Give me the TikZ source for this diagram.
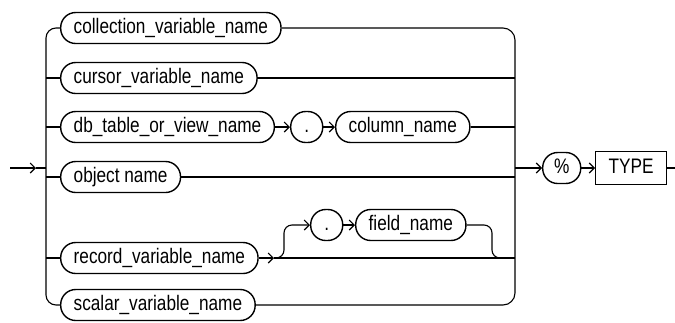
\documentclass[tikz,border=0pt]{standalone}
\usepackage{fontspec}
\setmainfont{Liberation Sans}[FakeStretch=0.82]
\usetikzlibrary{arrows.meta}
\begin{document}
\begin{tikzpicture}[x=1pt,y=-1pt,
  line width=1.1pt,
  font=\fontsize{21}{25}\selectfont,
  term/.style={draw, line width=1.4pt, rounded corners=15pt, minimum height=31pt, inner xsep=13pt, inner ysep=0pt, text height=15pt, text depth=4pt, anchor=west},
  dotn/.style={term, minimum width=32pt, inner xsep=0pt},
  kw/.style={draw, line width=1.4pt, minimum height=33pt, inner xsep=13pt, inner ysep=0pt, text height=15pt, text depth=4pt, anchor=west},
  arr/.style={-{Straight Barb[length=5pt,width=10pt,line width=1.1pt]}}]
\useasboundingbox (0,0) rectangle (675,322);
% nodes
\node[term] (c1) at (60,28) {collection\_variable\_name};
\node[term] (c2) at (60,78) {cursor\_variable\_name};
\node[term] (c3) at (60,127) {db\_table\_or\_view\_name};
\node[dotn] (dot1) at (290,127) {.};
\node[term] (col) at (335,127) {column\_name};
\node[term] (c4) at (60,177) {object name};
\node[term] (c5) at (60,258) {record\_variable\_name};
\node[dotn] (dot2) at (310,225) {.};
\node[term] (fld) at (355,225) {field\_name};
\node[term] (c6) at (60,305) {scalar\_variable\_name};
\node[term, minimum width=38pt, inner xsep=0pt] (pct) at (542,168) {\%};
\node[kw] (typ) at (595,168) {TYPE};
% coordinates
\coordinate (e0) at (10,168);
\coordinate (e1) at (36,168);
\coordinate (jl) at (46,168);
\coordinate (jr) at (515,168);
\coordinate (rt) at (274,258);
\coordinate (rb) at (284,225);
\coordinate (fb) at (492,258);
\coordinate (xe) at (675,168);
% entry
\draw[arr] (e0) -- (e1);
\draw (e1) -- (jl);
% left rail
\draw[rounded corners=10pt] (c1.west) -| (jl) |- (c6.west);
\draw (46,78) -- (c2.west);
\draw (46,127) -- (c3.west);
\draw (46,177) -- (c4.west);
\draw (46,258) -- (c5.west);
% right rail
\draw[rounded corners=12pt] (c1.east) -| (jr) |- (c6.east);
\draw (c2.east) -- (515,78);
\draw (col.east) -- (515,127);
\draw (c4.east) -- (515,177);
% db row
\draw[arr] (c3.east) -- (dot1.west);
\draw[arr] (dot1.east) -- (col.west);
% record row
\draw[arr] (c5.east) -- (rt);
\draw (rt) -- (515,258);
\draw[arr, rounded corners=8pt] (rt) -| (rb) -- (dot2.west);
\draw[arr] (dot2.east) -- (fld.west);
\draw[rounded corners=8pt] (fld.east) -| (fb) -- (503,258);
% exit
\draw[arr] (jr) -- (pct.west);
\draw[arr] (pct.east) -- (typ.west);
\draw (typ.east) -- (xe);
\end{tikzpicture}
\end{document}
